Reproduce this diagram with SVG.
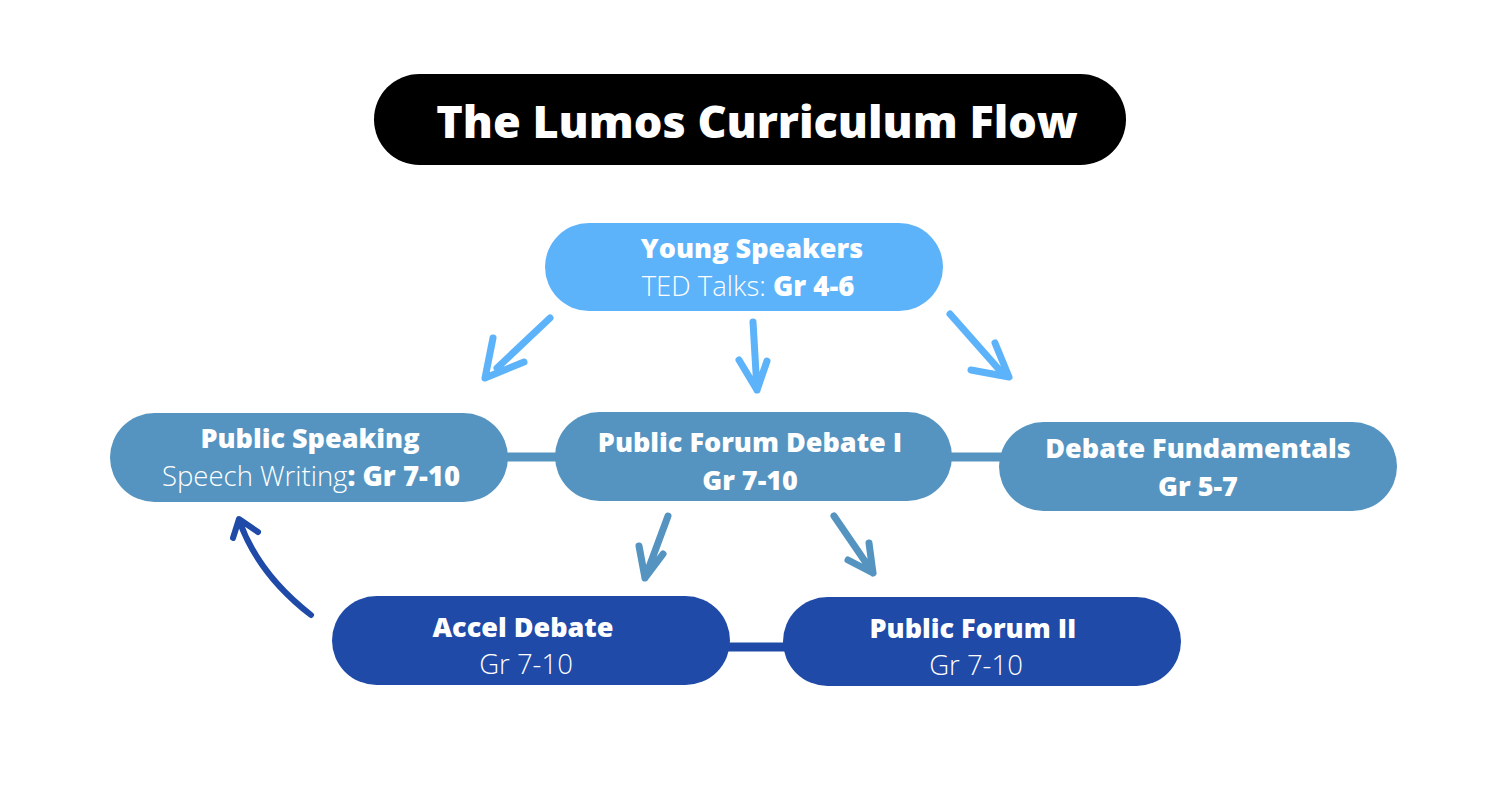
<svg xmlns="http://www.w3.org/2000/svg" width="1488" height="808" viewBox="0 0 1488 808">
<style>
.t{font-family:"Open Sans","Liberation Sans",sans-serif;fill:#fff;text-anchor:middle}
.b{font-weight:800;font-size:27px}
.r{font-weight:300;font-size:27.5px}
.lt{fill:#5DB3FA}.md{fill:#5594C0}.dk{fill:#1F4AA8}
.a{fill:none;stroke-linecap:round;stroke-linejoin:round;stroke-width:7}
.al{stroke:#5DB3FA}.am{stroke:#5594C0}.ad{stroke:#1F4AA8}
.c{stroke-width:9}
</style>
<rect width="1488" height="808" fill="#fff"/>
<g id="title">
<rect x="374" y="74" width="752" height="91" rx="45.5" fill="#000"/>
<text class="t" x="757" y="138" style="font-weight:800;font-size:45px">The Lumos Curriculum Flow</text>
</g>
<g id="connectors">
<line class="c" x1="505" y1="457" x2="560" y2="457" stroke="#5594C0"/>
<line class="c" x1="948" y1="457" x2="1003" y2="457" stroke="#5594C0"/>
<line class="c" x1="725" y1="647" x2="788" y2="647" stroke="#1F4AA8"/>
<path class="a al" d="M550 318 L497 368 M493 338 L485 378 L524 362"/>
<path class="a al" d="M753 322 L757 390 M739 360 L757 390 L767 361"/>
<path class="a al" d="M950 314 L1003 374 M995 343 L1009 377 L971 370"/>
<path class="a am" d="M668 516 L645 578 M639 546 L645 578 L663 554"/>
<path class="a am" d="M834 516 L873 573 M869 543 L873 573 L848 560"/>
<path class="a ad" d="M311 615 Q258 574 239 520 M233 538 L239 519 L258 532" style="stroke-width:6"/>
</g>
<g id="young-speakers">
<rect class="lt" x="545" y="223" width="398" height="88" rx="44"/>
<text class="t b" x="752" y="258">Young Speakers</text>
<text class="t r" x="748" y="296">TED Talks: <tspan font-weight="800">Gr 4-6</tspan></text>
</g>
<g id="public-speaking">
<rect class="md" x="110" y="413" width="398" height="89" rx="44.5"/>
<text class="t b" x="310" y="448">Public Speaking</text>
<text class="t r" x="311" y="486">Speech Writing<tspan font-weight="800">: Gr 7-10</tspan></text>
</g>
<g id="public-forum-debate-i">
<rect class="md" x="555" y="412" width="397" height="89" rx="44.5"/>
<text class="t b" x="750" y="452">Public Forum Debate I</text>
<text class="t b" x="750" y="490">Gr 7-10</text>
</g>
<g id="debate-fundamentals">
<rect class="md" x="999" y="422" width="398" height="89" rx="44.5"/>
<text class="t b" x="1198" y="458">Debate Fundamentals</text>
<text class="t b" x="1198" y="496">Gr 5-7</text>
</g>
<g id="accel-debate">
<rect class="dk" x="332" y="596" width="398" height="89" rx="44.5"/>
<text class="t b" x="523" y="637">Accel Debate</text>
<text class="t r" x="526" y="674">Gr 7-10</text>
</g>
<g id="public-forum-ii">
<rect class="dk" x="783" y="597" width="398" height="89" rx="44.5"/>
<text class="t b" x="973" y="638">Public Forum II</text>
<text class="t r" x="976" y="675">Gr 7-10</text>
</g>
</svg>
